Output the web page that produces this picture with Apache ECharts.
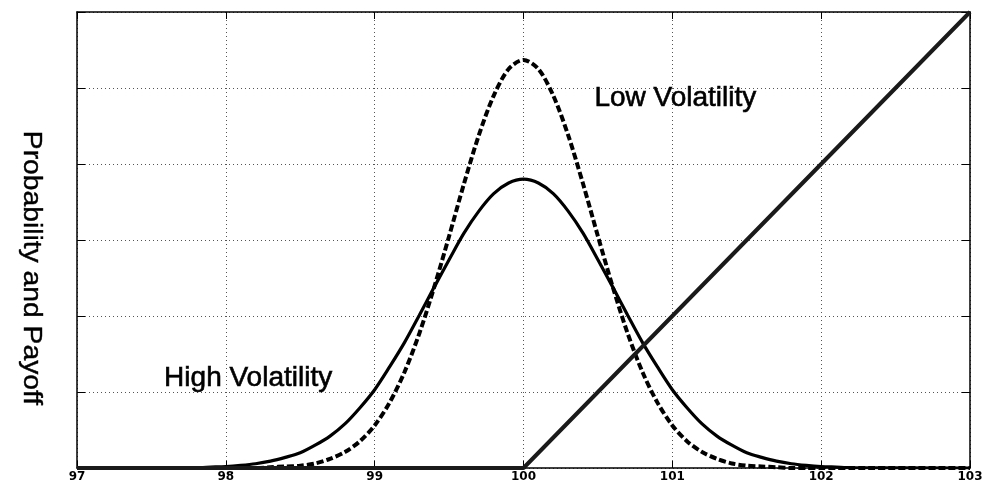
<!DOCTYPE html>
<html>
<head>
<meta charset="utf-8">
<script src="https://cdn.jsdelivr.net/npm/echarts@6/dist/echarts.min.js"></script>
<style>
  html, body { margin: 0; padding: 0; background: #fff; }
  #chart { width: 990px; height: 487px; }
</style>
</head>
<body>
<div id="chart"></div>
<script>
// Underlying price grid
const prices = [97, 97.8, 97.9, 98.0, 98.1, 98.2, 98.3, 98.4, 98.5, 98.6, 98.7, 98.8, 98.9,
  99.0, 99.1, 99.2, 99.3, 99.4, 99.5, 99.6, 99.7, 99.8, 99.9, 100.0,
  100.1, 100.2, 100.3, 100.4, 100.5, 100.6, 100.7, 100.8, 100.9, 101.0,
  101.1, 101.2, 101.3, 101.4, 101.5, 101.6, 101.7, 101.8, 101.9, 102.0, 102.1, 102.2, 103];

// Probability density, high volatility (solid)
const highVol = [0, 0.004, 0.012, 0.02, 0.035, 0.056, 0.09, 0.14, 0.20, 0.30, 0.42, 0.58, 0.79,
  1.03, 1.33, 1.65, 2.01, 2.38, 2.74, 3.09, 3.38, 3.61, 3.75, 3.80,
  3.75, 3.61, 3.38, 3.09, 2.74, 2.38, 2.01, 1.65, 1.33, 1.03,
  0.79, 0.58, 0.42, 0.30, 0.20, 0.14, 0.09, 0.056, 0.035, 0.02, 0.012, 0.004, 0];

// Probability density, low volatility (dashed)
const lowVol = [0, 0, 0, 0, 0, 0, 0.01, 0.02, 0.03, 0.06, 0.12, 0.21, 0.35,
  0.56, 0.86, 1.26, 1.77, 2.38, 3.05, 3.74, 4.38, 4.90, 5.25, 5.37,
  5.25, 4.90, 4.38, 3.74, 3.05, 2.38, 1.77, 1.26, 0.86, 0.56,
  0.35, 0.21, 0.12, 0.06, 0.03, 0.02, 0.01, 0, 0, 0, 0, 0, 0];

// Call option payoff at expiry (strike 100)
const payoffX = [97, 100, 103];
const payoffY = [0, 0, 6];

// x-axis tick labels
const xTicks = [97, 98, 99, 100, 101, 102, 103];

// Curve captions and where they sit (data coordinates)
const captions = ['Low Volatility', 'High Volatility'];
const captionAt = [[101.02, 4.87], [98.15, 1.18]];

const pairs = (xs, ys) => xs.map((x, i) => [x, ys[i]]);

const ink = '#000';
const gridLine = { show: true, lineStyle: { color: '#555', type: [1, 3], width: 1 } };
const frame = { show: true, onZero: false, lineStyle: { color: ink, width: 1.5 } };

const chart = echarts.init(document.getElementById('chart'), null, { renderer: 'canvas' });
chart.setOption({
  animation: false,
  backgroundColor: '#fff',
  grid: { left: 77, right: 20, top: 12, bottom: 19, containLabel: false },
  xAxis: [
    {
      type: 'value', min: 97, max: 103, interval: 1, position: 'bottom',
      axisLine: frame,
      axisTick: { show: true, inside: true, length: 7, lineStyle: { color: ink } },
      axisLabel: {
        show: true, margin: 3, color: ink,
        fontFamily: 'DejaVu Sans', fontWeight: 'bold', fontSize: 12,
        formatter: v => (xTicks.indexOf(v) >= 0 ? String(v) : '')
      },
      splitLine: gridLine
    },
    {
      type: 'value', min: 97, max: 103, interval: 1, position: 'top',
      axisLine: frame,
      axisTick: { show: true, inside: true, length: 7, lineStyle: { color: ink } },
      axisLabel: { show: false },
      splitLine: { show: false }
    }
  ],
  yAxis: [
    {
      type: 'value', min: 0, max: 6, interval: 1, position: 'left',
      axisLine: frame,
      axisTick: { show: true, inside: true, length: 8, lineStyle: { color: ink } },
      axisLabel: { show: false },
      splitLine: gridLine
    },
    {
      type: 'value', min: 0, max: 6, interval: 1, position: 'right',
      axisLine: frame,
      axisTick: { show: true, inside: true, length: 8, lineStyle: { color: ink } },
      axisLabel: { show: false },
      splitLine: { show: false }
    }
  ],
  graphic: [
    {
      type: 'text',
      x: 31, y: 268,
      rotation: -Math.PI / 2,
      scaleX: 1.13,
      style: {
        text: 'Probability and Payoff',
        fontFamily: 'Liberation Sans, Arial, sans-serif',
        fontSize: 25,
        fill: ink,
        stroke: ink,
        lineWidth: 0.4,
        align: 'center',
        verticalAlign: 'middle'
      }
    }
  ],
  series: [
    {
      name: 'High Volatility', type: 'line', showSymbol: false, smooth: 0.3,
      data: pairs(prices, highVol),
      lineStyle: { color: ink, width: 3.2 }, z: 3
    },
    {
      name: 'Low Volatility', type: 'line', showSymbol: false, smooth: 0.3,
      data: pairs(prices, lowVol),
      lineStyle: { color: ink, width: 4, type: [7, 3] }, z: 3
    },
    {
      name: 'Payoff', type: 'line', showSymbol: false,
      data: pairs(payoffX, payoffY),
      lineStyle: { color: '#1a1a1a', width: 4 }, z: 4
    },
    {
      name: 'captions', type: 'scatter', symbolSize: 0, silent: true,
      itemStyle: { opacity: 1 },
      data: captions.map((c, i) => ({ name: c, value: captionAt[i] })),
      label: {
        show: true, position: 'inside', formatter: p => p.name,
        fontFamily: 'Liberation Sans, Arial, sans-serif', fontSize: 28,
        color: ink, textBorderColor: ink, textBorderWidth: 0.6, opacity: 1
      },
      z: 5
    }
  ]
});
</script>
</body>
</html>
